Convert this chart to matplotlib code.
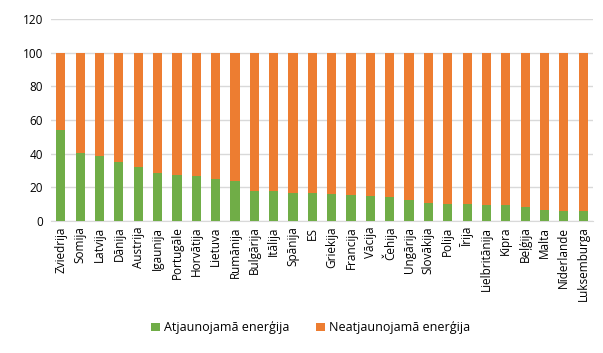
import numpy as np
import matplotlib.pyplot as plt

# valstis un atjaunojamas energijas dala (%)
countries = ["Zviedrija", "Somija", "Latvija", "Dānija", "Austrija", "Igaunija",
             "Portugāle", "Horvātija", "Lietuva", "Rumānija", "Bulgārija", "Itālija",
             "Spānija", "ES", "Griekija", "Francija", "Vācija", "Čehija", "Ungārija",
             "Slovākija", "Polija", "Īrija", "Lielbritānija", "Kipra", "Beļģija",
             "Malta", "Nīderlande", "Luksemburga"]
renewable = [54.2, 40.4, 38.8, 35.2, 32.0, 28.5, 27.3, 26.9, 24.9, 23.7, 17.8, 17.8,
             16.6, 16.6, 16.2, 15.4, 15.0, 14.2, 12.7, 10.7, 10.3, 10.3, 9.5, 9.5,
             8.3, 6.7, 5.9, 5.9]
nonrenewable = [100 - r for r in renewable]

plt.rcParams['font.family'] = ['Open Sans', 'DejaVu Sans']

fig = plt.figure(figsize=(6.03, 3.53), dpi=100)
ax = fig.add_axes([0.085, 0.374, 0.898, 0.572])

x = np.arange(len(countries))
ax.bar(x, renewable, width=0.47, color="#70AD47", label="Atjaunojamā enerģija", zorder=3)
ax.bar(x, nonrenewable, width=0.47, bottom=renewable, color="#ED7D31",
       label="Neatjaunojamā enerģija", zorder=3)

ax.set_xlim(-0.5, len(countries) - 0.5)
ax.set_ylim(0, 120)
ax.set_yticks(range(0, 121, 20))
ax.set_xticks(x)
ax.set_xticklabels(countries, rotation=90, fontsize=8.5)
ax.tick_params(axis='y', labelsize=8.5, length=0, pad=6)
ax.tick_params(axis='x', length=0, pad=4)
ax.grid(axis='y', color="#D9D9D9", linewidth=1, zorder=0)
for s in ["top", "right", "left"]:
    ax.spines[s].set_visible(False)
ax.spines["bottom"].set_color("#D9D9D9")

ax.legend(loc="center", bbox_to_anchor=(0.515, 0.071), bbox_transform=fig.transFigure,
          ncol=2, frameon=False, fontsize=9, handlelength=0.7, handleheight=0.7,
          handletextpad=0.3, columnspacing=2.2)

fig.savefig("out.png", dpi=100)
